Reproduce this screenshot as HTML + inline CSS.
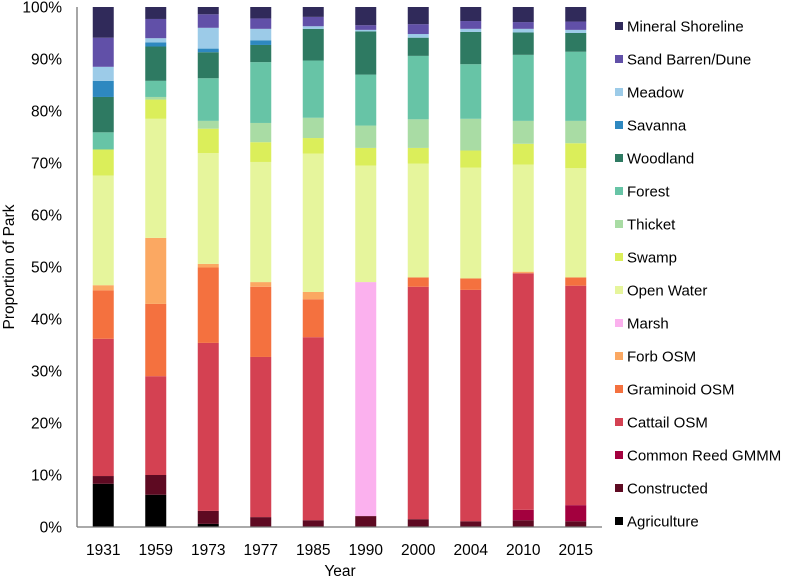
<!DOCTYPE html>
<html><head><meta charset="utf-8"><style>
body{margin:0;background:#fff;font-family:"Liberation Sans",Arial,sans-serif;}
svg text{font-family:"Liberation Sans",Arial,sans-serif;fill:#000;}
</style></head><body>
<svg id="chart" width="797" height="581"></svg>
<script>
const years=["1931","1959","1973","1977","1985","1990","2000","2004","2010","2015"];
const names=["Agriculture","Constructed","Common Reed GMMM","Cattail OSM","Graminoid OSM","Forb OSM","Marsh","Open Water","Swamp","Thicket","Forest","Woodland","Savanna","Meadow","Sand Barren/Dune","Mineral Shoreline"];
const colors=["#000000","#5e0a22","#a3003e","#d44152","#f4713f","#fba862","#fbb1ee","#e6f59c","#dbee5a","#a9dca4","#67c4a6","#2e7a62","#2e88c0","#9ccbe8","#6150a8","#302a5a"];
const agriculture=[8.3,6.2,0.6,0,0,0,0,0,0,0];
const constructed=[1.5,3.8,2.5,1.9,1.3,2.1,1.5,1.1,1.3,1.1];
const commonReed=[0,0,0,0,0,0,0,0,2.0,3.1];
const cattail=[26.4,19.0,32.3,30.8,35.2,0,44.7,44.5,45.5,42.2];
const graminoid=[9.3,13.9,14.5,13.5,7.3,0,1.8,2.2,0,1.6];
const forb=[1.0,12.7,0.7,0.9,1.4,0,0,0,0.3,0];
const marsh=[0,0,0,0,0,45.0,0,0,0,0];
const openWater=[21.1,22.9,21.3,23.1,26.6,22.4,21.9,21.3,20.6,21.0];
const swamp=[5.0,3.7,4.7,3.8,3.0,3.4,3.0,3.3,4.0,4.8];
const thicket=[0,0.5,1.5,3.7,3.9,4.3,5.5,6.1,4.4,4.3];
const forest=[3.3,3.1,8.2,11.7,11.0,9.8,12.2,10.5,12.7,13.3];
const woodland=[6.8,6.6,5.0,3.3,6.1,8.3,3.5,6.2,4.3,3.6];
const savanna=[3.1,0.8,0.7,0.9,0,0,0,0,0,0];
const meadow=[2.7,0.8,4.0,2.2,0.5,0.3,0.7,0.6,0.7,0.6];
const sandDune=[5.6,3.7,2.6,2.0,1.8,0.9,1.9,1.5,1.3,1.6];
const mineral=[5.9,2.3,1.4,2.2,1.9,3.5,3.3,2.7,2.9,2.8];
const yTicks=["0%","10%","20%","30%","40%","50%","60%","70%","80%","90%","100%"];
const series=[agriculture,constructed,commonReed,cattail,graminoid,forb,marsh,openWater,swamp,thicket,forest,woodland,savanna,meadow,sandDune,mineral];

const NS="http://www.w3.org/2000/svg";
const svg=document.getElementById("chart");
const L=77,R=602,T=7,B=527;
const band=(R-L)/years.length, bw=21;
const y=v=>B-(B-T)*v/100;
const xc=i=>L+band*(i+0.5);
function mk(tag,attrs){const e=document.createElementNS(NS,tag);for(const k in attrs)e.setAttribute(k,attrs[k]);svg.appendChild(e);return e;}

yTicks.forEach((t,i)=>{
  const e=mk("text",{x:62,y:y(i*10)+5.5,"text-anchor":"end","font-size":"15.5"});
  e.textContent=t;
  
  
});
years.forEach((yr,i)=>{
  let cum=0;
  series.forEach((s,k)=>{
    const v=s[i]; if(v>0){
      let top=cum+v; if(k===series.length-1) top=Math.max(top,100);
      const r=mk("rect",{x:xc(i)-bw/2,y:y(top),width:bw,height:y(cum)-y(top),fill:colors[k]});
      
      
    }
    cum+=v;
  });
  const t=mk("text",{x:xc(i),y:555,"text-anchor":"middle","font-size":"15.5"});
  t.textContent=yr;
  
  
});
const ax=mk("line",{x1:L,y1:T,x2:L,y2:B,stroke:"#777","stroke-width":1.3});


const bx=mk("line",{x1:L,y1:B,x2:R,y2:B,stroke:"#777","stroke-width":1.3});


const xt=mk("text",{x:340,y:576,"text-anchor":"middle","font-size":"15.5"});
xt.textContent="Year";


const yt=mk("text",{x:0,y:0,"text-anchor":"middle","font-size":"15.5",transform:"translate(14,267) rotate(-90)"});
yt.textContent="Proportion of Park";


for(let k=series.length-1;k>=0;k--){
  const j=series.length-1-k, cy=26+j*33;
  const g=document.createElementNS(NS,"g");svg.appendChild(g);
  
  
  const r=document.createElementNS(NS,"rect");
  r.setAttribute("x",615);r.setAttribute("y",cy-4);r.setAttribute("width",8);r.setAttribute("height",8);r.setAttribute("fill",colors[k]);
  g.appendChild(r);
  const t=document.createElementNS(NS,"text");
  t.setAttribute("x",627);t.setAttribute("y",cy+5.5);t.setAttribute("font-size","15");
  t.textContent=names[k];g.appendChild(t);
}
</script>
</body></html>
